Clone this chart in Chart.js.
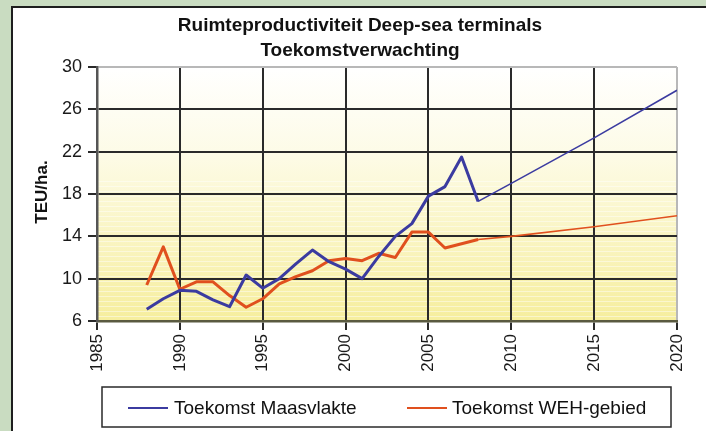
<!DOCTYPE html>
<html>
<head>
<meta charset="utf-8">
<script src="https://cdn.jsdelivr.net/npm/chart.js@4.4.0/dist/chart.umd.min.js"></script>
<style>
  html, body { margin: 0; padding: 0; background: #c9dcc1; }
  canvas { display: block; }
</style>
</head>
<body>
<canvas id="js--chart" width="706" height="431"></canvas>
<script>
// gemeten jaren + prognose
const jaren = [1988, 1989, 1990, 1991, 1992, 1993, 1994, 1995, 1996, 1997, 1998,
    1999, 2000, 2001, 2002, 2003, 2004, 2005, 2006, 2007, 2008, 2010, 2015, 2020];
const maasvlakte = [7.1, 8.1, 8.9, 8.8, 8.0, 7.35, 10.35, 9.1, 10.0, 11.4, 12.7,
    11.6, 10.9, 10.0, 12.1, 14.0, 15.2, 17.8, 18.7, 21.5, 17.3, 19.0, 23.3, 27.8];
const weh = [9.4, 13.0, 9.0, 9.7, 9.7, 8.4, 7.3, 8.1, 9.5, 10.2, 10.75,
    11.7, 11.9, 11.7, 12.4, 12.0, 14.4, 14.4, 12.9, 13.3, 13.7, 14.0, 14.9, 15.95];
const reeksNamen = ["Toekomst Maasvlakte", "Toekomst WEH-gebied"];
const yTicks = [6, 10, 14, 18, 22, 26, 30];
const titel = ["Ruimteproductiviteit Deep-sea terminals", "Toekomstverwachting"];
const prognoseVanaf = 2008;

const blauw = '#3b3ba0';
const rood = '#e0501e';
const lettertype = "'Liberation Sans', Arial, sans-serif";

function punten(waarden) {
    return jaren.map(function (jaar, i) {
        return { x: jaar, y: waarden[i] };
    });
}

// dunne lijn voor het prognosedeel
function lijnDikte(ctx) {
    return ctx.p0.parsed.x >= prognoseVanaf ? 1.6 : 3;
}

const achtergrond = {
    id: 'achtergrond',
    beforeDraw(chart) {
        const ctx = chart.ctx;
        const area = chart.chartArea;
        ctx.save();
        ctx.fillStyle = '#c9dcc1';
        ctx.fillRect(0, 0, chart.width, chart.height);
        ctx.fillStyle = '#ffffff';
        ctx.fillRect(12, 7, chart.width, chart.height);
        ctx.strokeStyle = '#1e1e1e';
        ctx.lineWidth = 2;
        ctx.beginPath();
        ctx.moveTo(12, chart.height);
        ctx.lineTo(12, 7);
        ctx.lineTo(chart.width, 7);
        ctx.stroke();

        // plotvlak: wit naar geel
        const grad = ctx.createLinearGradient(0, area.top, 0, area.bottom);
        grad.addColorStop(0, '#ffffff');
        grad.addColorStop(0.35, '#fdfbe6');
        grad.addColorStop(1, '#f6ee9e');
        ctx.fillStyle = grad;
        ctx.fillRect(area.left, area.top, area.right - area.left, area.bottom - area.top);

        // lichte strepen in de onderste helft
        ctx.fillStyle = 'rgba(255,255,255,0.45)';
        for (let y = area.top + (area.bottom - area.top) * 0.45; y < area.bottom; y += 5) {
            ctx.fillRect(area.left, Math.round(y), area.right - area.left, 1);
        }
        ctx.restore();
    },
    afterDraw(chart) {
        const ctx = chart.ctx;
        ctx.save();

        // titel
        ctx.fillStyle = '#111';
        ctx.textAlign = 'center';
        ctx.textBaseline = 'alphabetic';
        ctx.font = "bold 19px " + lettertype;
        ctx.fillText(titel[0], 360, 31);
        ctx.fillText(titel[1], 360, 56);

        // y-as titel
        ctx.save();
        ctx.translate(47, 192);
        ctx.rotate(-Math.PI / 2);
        ctx.font = "bold 17px " + lettertype;
        ctx.textAlign = 'center';
        ctx.fillText("TEU/ha.", 0, 0);
        ctx.restore();

        // legenda met kader
        ctx.strokeStyle = '#2a2a2a';
        ctx.lineWidth = 1.5;
        ctx.strokeRect(102, 387, 569, 40);
        const items = [
            { x: 128, tekst: 174 },
            { x: 407, tekst: 452 }
        ];
        ctx.font = "19px " + lettertype;
        ctx.textAlign = 'left';
        chart.data.datasets.forEach(function (ds, i) {
            ctx.strokeStyle = ds.borderColor;
            ctx.lineWidth = 2;
            ctx.beginPath();
            ctx.moveTo(items[i].x, 408);
            ctx.lineTo(items[i].x + 40, 408);
            ctx.stroke();
            ctx.fillStyle = '#111';
            ctx.fillText(ds.label, items[i].tekst, 414);
        });
        ctx.restore();
    }
};

const data = {
    datasets: [
        {
            label: reeksNamen[0],
            data: punten(maasvlakte),
            borderColor: blauw,
            borderWidth: 3,
            segment: { borderWidth: lijnDikte }
        },
        {
            label: reeksNamen[1],
            data: punten(weh),
            borderColor: rood,
            borderWidth: 3,
            segment: { borderWidth: lijnDikte }
        }
    ]
};

const config = {
    type: 'line',
    data: data,
    plugins: [achtergrond],
    options: {
        responsive: false,
        animation: false,
        layout: { padding: { top: 67, right: 29, left: 0, bottom: 0 } },
        elements: {
            point: { radius: 0 },
            line: { tension: 0, borderJoinStyle: 'round' }
        },
        plugins: {
            legend: { display: false },
            title: { display: false },
            tooltip: { enabled: false }
        },
        scales: {
            x: {
                type: 'linear',
                min: 1985,
                max: 2020,
                afterFit: function (scale) { scale.height = 110; },
                ticks: {
                    stepSize: 5,
                    minRotation: 90,
                    maxRotation: 90,
                    padding: 4,
                    color: '#1a1a1a',
                    font: { family: lettertype, size: 17 },
                    callback: function (v) { return String(v); }
                },
                grid: {
                    color: function (ctx) {
                        return ctx.tick && ctx.tick.value === 2020 ? '#b8b8b8' : '#2a2a2a';
                    },
                    lineWidth: 2,
                    tickLength: 9,
                    tickColor: '#2a2a2a'
                },
                border: { color: '#5a5a40', width: 2.5 }
            },
            y: {
                min: 6,
                max: 30,
                afterFit: function (scale) { scale.width = 97; },
                afterBuildTicks: function (scale) {
                    scale.ticks = yTicks.map(function (v) { return { value: v }; });
                },
                ticks: {
                    padding: 6,
                    color: '#1a1a1a',
                    font: { family: lettertype, size: 18 }
                },
                grid: {
                    color: function (ctx) {
                        return ctx.tick && ctx.tick.value === 30 ? '#b8b8b8' : '#2a2a2a';
                    },
                    lineWidth: 2,
                    tickLength: 9,
                    tickColor: '#2a2a2a'
                },
                border: { color: '#555', width: 2.5 }
            }
        }
    }
};

const grafiek = new Chart(document.getElementById("js--chart"), config);
</script>
</body>
</html>
